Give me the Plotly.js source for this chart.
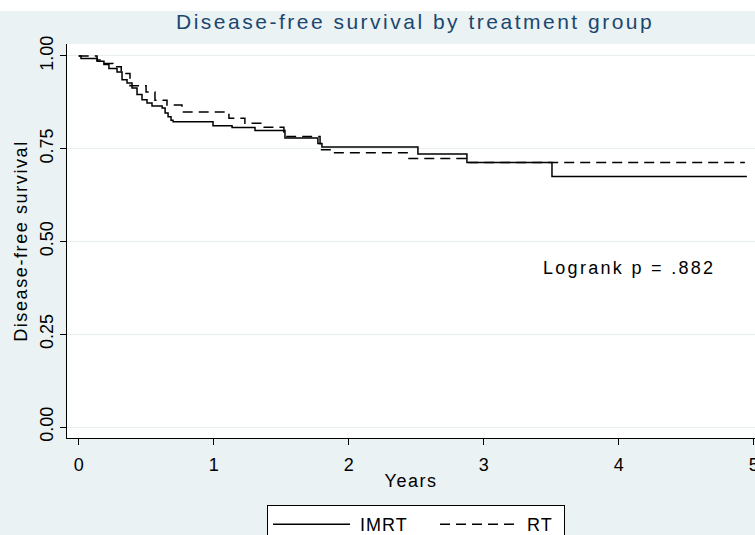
<!DOCTYPE html>
<html>
<head>
<meta charset="utf-8">
<script src="https://cdn.plot.ly/plotly-3.0.1.min.js"></script>
<style>
  html, body { margin: 0; padding: 0; background: #ffffff; }
  #chart { width: 755px; height: 535px; }
  .gtitle { letter-spacing: 2.5px; }
  .xtitle { letter-spacing: 1.5px; }
  .ytitle { letter-spacing: 1.6px; }
  .annotation-text { letter-spacing: 2.3px; }
  .legendtext { letter-spacing: 1px; }
</style>
</head>
<body>
<div id="chart"></div>
<script>
// ---- data ----
const groupNames = ["IMRT", "RT"];

const imrtTime = [0, 0.017, 0.136, 0.187, 0.224, 0.284, 0.321, 0.358, 0.395, 0.432,
                  0.469, 0.506, 0.543, 0.618, 0.640, 0.662, 0.684, 0.699, 0.995, 1.136,
                  1.306, 1.528, 1.772, 1.802, 2.513, 2.876, 3.506, 4.950];
const imrtSurv = [1.000, 0.993, 0.986, 0.977, 0.966, 0.957, 0.936, 0.927, 0.914, 0.896,
                  0.882, 0.873, 0.865, 0.860, 0.846, 0.836, 0.827, 0.823, 0.812, 0.807,
                  0.799, 0.779, 0.764, 0.755, 0.736, 0.713, 0.675, 0.675];

const rtTime = [0, 0.136, 0.158, 0.254, 0.315, 0.380, 0.499, 0.565, 0.654, 0.765,
                1.113, 1.231, 1.357, 1.520, 1.788, 1.884, 2.447, 2.869, 4.935];
const rtSurv = [1.000, 0.989, 0.980, 0.971, 0.953, 0.920, 0.903, 0.881, 0.868, 0.849,
                0.832, 0.819, 0.808, 0.783, 0.747, 0.739, 0.724, 0.713, 0.713];

const xTickVals = [0, 1, 2, 3, 4, 5];
const xTickText = ["0", "1", "2", "3", "4", "5"];
const yTickVals = [0, 0.25, 0.5, 0.75, 1];
const yTickText = ["0.00", "0.25", "0.50", "0.75", "1.00"];

const titleText = "Disease-free survival by treatment group";
const xTitleText = "Years";
const yTitleText = "Disease-free survival";
const noteText = "Logrank p = .882";
const notePos = { x: 3.424, y: 0.429 };

// ---- chart ----
const FONT = "Liberation Sans, Arial, Helvetica, sans-serif";
const BG = "#EAF2F3";

const traces = [
  {
    x: imrtTime, y: imrtSurv, name: groupNames[0],
    type: "scatter", mode: "lines",
    line: { shape: "hv", color: "#000000", width: 1.5 },
    hoverinfo: "skip"
  },
  {
    x: rtTime, y: rtSurv, name: groupNames[1],
    type: "scatter", mode: "lines",
    line: { shape: "hv", color: "#000000", width: 1.5, dash: "10px,6px" },
    hoverinfo: "skip"
  }
];

const layout = {
  width: 755, height: 535,
  margin: { l: 67, r: 0, t: 44, b: 97, pad: 0 },
  paper_bgcolor: BG,
  plot_bgcolor: "#ffffff",
  font: { family: FONT, color: "#000000", size: 18 },
  title: {
    text: titleText,
    font: { family: FONT, size: 21, color: "#1A476F" },
    x: 0.506, xref: "paper", xanchor: "center",
    y: 1 - 22 / 535, yref: "container", yanchor: "middle"
  },
  xaxis: {
    range: [-0.0867, 5.01],
    tickmode: "array", tickvals: xTickVals, ticktext: xTickText,
    ticks: "outside", ticklen: 6, tickwidth: 1, tickcolor: "#000000",
    ticklabelstandoff: 4, ticklabeloverflow: "allow",
    showline: true, linecolor: "#000000", linewidth: 1,
    showgrid: false, zeroline: false,
    tickfont: { family: FONT, size: 18, color: "#000000" },
    title: { text: xTitleText, font: { family: FONT, size: 18, color: "#000000" }, standoff: 0 },
    automargin: false
  },
  yaxis: {
    range: [-0.0296, 1.0323],
    tickmode: "array", tickvals: yTickVals, ticktext: yTickText,
    tickangle: -90,
    ticks: "outside", ticklen: 6, tickwidth: 1, tickcolor: "#000000",
    showline: true, linecolor: "#000000", linewidth: 1,
    showgrid: true, gridcolor: "#E6EEF0", gridwidth: 1,
    zeroline: false,
    tickfont: { family: FONT, size: 18, color: "#000000" },
    title: { text: yTitleText, font: { family: FONT, size: 18, color: "#000000" }, standoff: 4 },
    automargin: false
  },
  showlegend: true,
  legend: {
    orientation: "h",
    xref: "container", yref: "container",
    x: 267 / 755, xanchor: "left",
    y: (535 - 505) / 535, yanchor: "top",
    bgcolor: "#ffffff", bordercolor: "#000000", borderwidth: 1,
    font: { family: FONT, size: 18, color: "#000000" },
    itemwidth: 82,
    entrywidth: 70, entrywidthmode: "pixels",
    maxheight: 200
  },
  annotations: [
    {
      text: noteText, x: notePos.x, y: notePos.y, xref: "x", yref: "y",
      xanchor: "left", yanchor: "middle", showarrow: false,
      font: { family: FONT, size: 18, color: "#000000" }
    }
  ],
  shapes: [
    {
      type: "rect", xref: "paper", yref: "paper", layer: "below",
      x0: -0.2, x1: 1.2, y0: 1 + (44 - 11) / 394, y1: 1 + 60 / 394,
      fillcolor: "#ffffff", line: { width: 0 }
    }
  ]
};

Plotly.newPlot("chart", traces, layout, { staticPlot: true, displayModeBar: false }).then(function () {
  // longer legend keys, like the reference
  document.querySelectorAll(".legend .legendlines path").forEach(function (p) {
    p.setAttribute("d", "M5,0h77");
  });
  // trim the legend frame to the reference's width
  const bg = document.querySelector(".legend rect.bg");
  if (bg) { bg.setAttribute("width", 297); }
});
</script>
</body>
</html>
